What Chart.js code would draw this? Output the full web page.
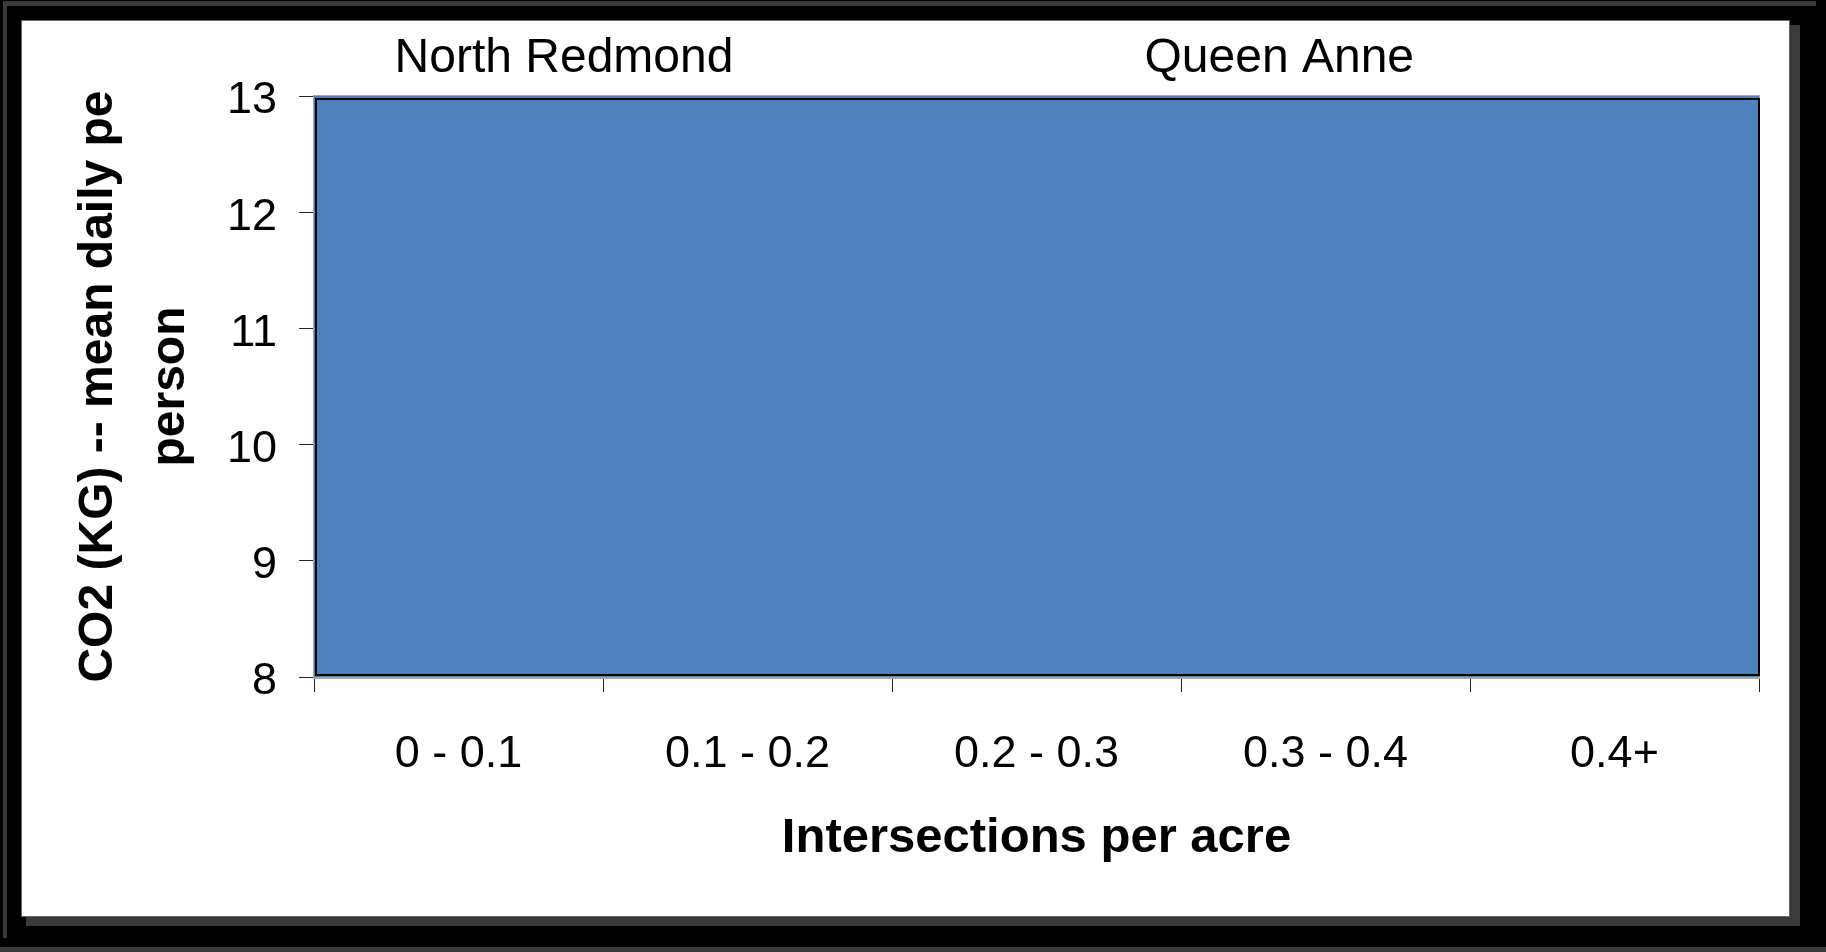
<!DOCTYPE html>
<html>
<head>
<meta charset="utf-8">
<title>CO2 per person by intersection density</title>
<script src="https://cdn.jsdelivr.net/npm/chart.js@4"></script>
<style>
  html, body { margin: 0; padding: 0; background: #000; overflow: hidden; }
  .strip { position: absolute; background: #3a3a3a; }
  #panel { position: absolute; left: 21px; top: 20px; width: 1767px; height: 895px; background: #fff; border: 1px solid #666; }
  #chart { position: absolute; left: 0; top: 0; }
</style>
</head>
<body>
<div class="strip" style="left:3px;top:1px;width:1813px;height:5px"></div>
<div class="strip" style="left:3px;top:1px;width:4px;height:937px"></div>
<div class="strip" style="left:0;top:947px;width:1826px;height:5px"></div>
<div class="strip" style="left:1790px;top:25px;width:10px;height:901px"></div>
<div class="strip" style="left:26px;top:917px;width:1774px;height:9px"></div>
<div id="panel"></div>
<canvas id="chart" width="1826" height="952"></canvas>
<script>
// data (all bars run past the top of the axis)
let categories = ['0 - 0.1', '0.1 - 0.2', '0.2 - 0.3', '0.3 - 0.4', '0.4+'];
let co2Values = [14.6, 14.1, 13.8, 13.5, 13.3];
let yTicks = [8, 9, 10, 11, 12, 13];
let siteLabels = ['North Redmond', 'Queen Anne'];
let siteAt = [0.365, 2.84]; // in category units

let barBlue = '#4F81BD';
let frameGray = '#a6a6a6';

Chart.defaults.font.family = "'Liberation Sans', Arial, sans-serif";
Chart.defaults.color = '#000';

// black outline round the plot area
const plotFrame = {
  id: 'plotFrame',
  afterDatasetsDraw(chart) {
    let a = chart.chartArea;
    let ctx = chart.ctx;
    ctx.save();
    ctx.strokeStyle = '#000';
    ctx.lineWidth = 2;
    ctx.strokeRect(a.left + 2, a.top + 3, a.right - a.left - 2, a.bottom - a.top - 5);
    ctx.restore();
  }
};

new Chart(document.getElementById('chart'), {
  type: 'bar',
  data: {
    labels: categories,
    datasets: [{
      label: 'CO2',
      data: co2Values,
      backgroundColor: barBlue,
      borderWidth: 0,
      barPercentage: 1,
      categoryPercentage: 1,
      clip: 0
    }]
  },
  options: {
    responsive: false,
    animation: false,
    devicePixelRatio: 1,
    layout: { padding: { left: 0, top: 0, right: 67, bottom: 0 } },
    plugins: { legend: { display: false }, tooltip: { enabled: false } },
    scales: {
      x: {
        position: 'bottom',
        grid: { drawOnChartArea: false, tickLength: 15, color: '#222' },
        border: { display: true, color: frameGray, width: 3 },
        ticks: { font: { size: 45 }, padding: 36, maxRotation: 0, minRotation: 0 },
        title: {
          display: true,
          text: 'Intersections per acre',
          font: { size: 49, weight: 'bold', lineHeight: 1.2 },
          padding: { top: 0, bottom: 84 }
        },
        afterFit(s) { s.height = 275; }
      },
      top: {
        type: 'linear',
        position: 'top',
        offset: false,
        min: -0.5,
        max: 4.5,
        grid: { display: false, drawTicks: false },
        border: { display: true, color: frameGray, width: 3 },
        ticks: {
          font: { size: 48 },
          padding: 8,
          autoSkip: false,
          maxRotation: 0,
          minRotation: 0,
          callback: (v, i) => siteLabels[i]
        },
        afterBuildTicks(s) { s.ticks = siteAt.map(v => ({ value: v })); },
        afterFit(s) { s.height = 96; }
      },
      y: {
        min: yTicks[0],
        max: yTicks[yTicks.length - 1],
        grid: { drawOnChartArea: false, tickLength: 15, color: '#222' },
        border: { display: true, color: frameGray, width: 3 },
        ticks: { stepSize: 1, font: { size: 45 }, padding: 22, labelOffset: 5 },
        afterBuildTicks(s) { s.ticks = yTicks.map(v => ({ value: v })); },
        title: {
          display: true,
          text: ['CO2 (KG) -- mean daily pe', 'person'],
          font: { size: 48, weight: 'bold', lineHeight: 1.5 },
          padding: { top: 63, bottom: 0 }
        },
        afterFit(s) { s.width = 314; }
      }
    }
  },
  plugins: [plotFrame]
});
</script>
</body>
</html>
